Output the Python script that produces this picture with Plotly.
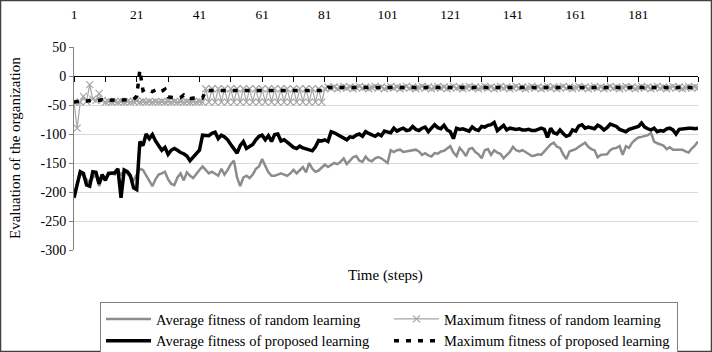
import plotly.graph_objects as go

steps = list(range(1, 201))

avg_random = [
    -205, -185, -168, -172, -178, -185, -175, -170, -190, -172,
    -178, -170, -168, -170, -165, -170, -163, -168, -175, -180,
    -170, -160, -162, -172, -180, -190, -178, -170, -168, -165,
    -178, -186, -188, -175, -168, -180, -166, -172, -176, -168,
    -162, -156, -162, -168, -165, -168, -172, -160, -170, -162,
    -152, -146, -175, -190, -175, -172, -176, -170, -160, -156,
    -143, -155, -166, -172, -172, -170, -168, -170, -172, -168,
    -162, -168, -162, -157, -166, -150, -160, -165, -163, -158,
    -153, -157, -154, -150, -152, -148, -142, -152, -146, -140,
    -138, -146, -148, -139, -145, -147, -142, -140, -142, -146,
    -150, -128, -131, -128, -127, -131, -130, -130, -128, -127,
    -130, -136, -133, -137, -139, -133, -134, -130, -129, -125,
    -121, -132, -138, -124, -130, -138, -126, -124, -131, -135,
    -142, -128, -126, -136, -128, -132, -134, -142, -136, -131,
    -122, -128, -130, -128, -131, -134, -138, -137, -135, -136,
    -130, -124, -118, -115, -122, -124, -135, -143, -130, -128,
    -126, -122, -118, -115, -122, -126, -128, -140, -136, -136,
    -135, -128, -125, -124, -121, -136, -121, -124, -115, -110,
    -106, -105, -103, -102, -98, -113, -116, -118, -120, -126,
    -123, -127, -127, -127, -127, -130, -132, -125, -120, -113,
]

max_random = [
    -45, -90, -45, -35, -44, -15, -40, -42, -30, -42,
    -45, -44, -45, -44, -45, -44, -45, -44, -45, -44,
    -43, -45, -44, -45, -44, -45, -44, -45, -44, -45,
    -44, -45, -44, -45, -44, -45, -44, -45, -44, -45,
    -44, -45, -22, -45, -22, -45, -22, -45, -22, -45,
    -22, -45, -22, -45, -22, -45, -22, -45, -22, -45,
    -22, -45, -22, -45, -22, -45, -22, -45, -22, -45,
    -22, -45, -22, -45, -22, -45, -22, -45, -22, -45,
    -22, -19, -21, -19, -22, -20, -18, -21, -19, -22,
    -20, -18, -21, -19, -22, -20, -18, -21, -19, -22,
    -20, -18, -21, -19, -22, -20, -18, -21, -19, -22,
    -20, -18, -21, -19, -22, -20, -18, -21, -19, -22,
    -20, -18, -21, -19, -22, -20, -18, -21, -19, -22,
    -20, -18, -21, -19, -22, -20, -18, -21, -19, -22,
    -20, -18, -21, -19, -22, -20, -18, -21, -19, -22,
    -20, -18, -21, -19, -22, -20, -18, -21, -19, -22,
    -20, -18, -21, -19, -22, -20, -18, -21, -19, -22,
    -20, -18, -21, -19, -22, -20, -18, -21, -19, -22,
    -20, -18, -21, -19, -22, -20, -18, -21, -19, -22,
    -20, -18, -21, -19, -22, -20, -18, -21, -19, -20,
]

avg_proposed = [
    -210, -185, -165, -168, -188, -190, -165, -166, -186, -170,
    -180, -168, -168, -167, -160, -210, -162, -165, -172, -193,
    -196, -113, -120, -100, -108, -101, -112, -120, -128, -123,
    -135, -128, -125, -128, -132, -134, -138, -146, -140, -135,
    -128, -102, -102, -103, -99, -97, -108, -102, -105, -110,
    -118, -125, -133, -120, -113, -125, -122, -118, -110, -104,
    -102, -110, -103, -113, -101, -100, -112, -110, -114, -119,
    -123, -125, -121, -124, -126, -127, -129, -122, -111, -112,
    -110, -113, -96, -98, -101, -104, -106, -110, -105, -106,
    -102, -100, -104, -96, -99, -101, -104, -100, -103, -95,
    -97, -98, -90, -95, -92, -90, -94, -93, -87, -92,
    -94, -90, -88, -96, -90, -84, -89, -91, -85, -93,
    -96, -108, -90, -92, -91, -93, -95, -88, -92, -94,
    -87, -88, -85, -84, -80, -94, -90, -85, -93, -90,
    -91, -92, -91, -93, -93, -92, -94, -94, -92, -90,
    -92, -106, -90, -98, -100, -93, -99, -104, -102, -93,
    -95, -86, -84, -90, -88, -90, -91, -85, -88, -93,
    -89, -83, -85, -87, -92, -94, -96, -92, -90, -88,
    -87, -81, -88, -91, -93, -90, -96, -94, -95, -91,
    -90, -93, -100, -92, -91, -90, -90, -90, -91, -90,
]

max_proposed = [
    -45, -44, -44, -43, -43, -42, -42, -43, -42, -41,
    -42, -42, -41, -42, -41, -42, -41, -41, -40, -40,
    -35, 10, -25, -22, -25, -27, -24, -28, -26, -23,
    -36, -37, -38, -38, -37, -33, -38, -39, -38, -39,
    -39, -38, -25, -25, -25, -25, -25, -25, -25, -25,
    -25, -25, -25, -25, -25, -25, -25, -25, -25, -25,
    -25, -25, -25, -25, -25, -25, -25, -25, -25, -25,
    -25, -25, -25, -25, -25, -25, -25, -25, -25, -25,
    -25, -20, -20, -20, -20, -20, -20, -20, -20, -20,
    -20, -20, -20, -20, -20, -20, -20, -20, -20, -20,
    -20, -20, -20, -20, -20, -20, -20, -20, -20, -20,
    -20, -20, -20, -20, -20, -20, -20, -20, -20, -20,
    -20, -20, -20, -20, -20, -20, -20, -20, -20, -20,
    -20, -20, -20, -20, -20, -20, -20, -20, -20, -20,
    -20, -20, -20, -20, -20, -20, -20, -20, -20, -20,
    -20, -20, -20, -20, -20, -20, -20, -20, -20, -20,
    -20, -20, -20, -20, -20, -20, -20, -20, -20, -20,
    -20, -20, -20, -20, -20, -20, -20, -20, -20, -20,
    -20, -20, -20, -20, -20, -20, -20, -20, -20, -20,
    -20, -20, -20, -20, -20, -20, -20, -20, -20, -20,
]

label_ticks = [1, 21, 41, 61, 81, 101, 121, 141, 161, 181]
minor_ticks = [1, 11, 21, 31, 41, 51, 61, 71, 81, 91, 101, 111, 121, 131,
               141, 151, 161, 171, 181, 191, 200]
y_ticks = [-300, -250, -200, -150, -100, -50, 0, 50]
y_tick_text = ["-300", "-250", "-200", "-150", "-100", "-50", "0", "50"]

FONT = "Liberation Serif"
W, H = 712, 352
ML, MR, MT, MB = 74, 14, 47, 102
PW, PH = W - ML - MR, H - MT - MB

fig = go.Figure()
fig.add_trace(go.Scatter(
    x=steps, y=avg_random, mode="lines", name="Average fitness of random learning",
    line=dict(color="#8c8c8c", width=2.5)))
fig.add_trace(go.Scatter(
    x=steps, y=max_random, mode="lines+markers", name="Maximum fitness of random learning",
    line=dict(color="#a6a6a6", width=1.2),
    marker=dict(symbol="x-thin-open", size=7, color="#a6a6a6",
                line=dict(color="#a6a6a6", width=1.2))))
fig.add_trace(go.Scatter(
    x=steps, y=avg_proposed, mode="lines", name="Average fitness of proposed learning",
    line=dict(color="#000000", width=3.5)))
fig.add_trace(go.Scatter(
    x=steps, y=max_proposed, mode="lines", name="Maximum fitness of proposed learning",
    line=dict(color="#000000", width=3.5, dash="5px,7px")))
# invisible helper trace for the top label axis
fig.add_trace(go.Scatter(x=[steps[0]], y=[None], xaxis="x2", showlegend=False,
                         hoverinfo="skip", mode="lines"))

ymin, ymax = -300, 50
zero_pos = (0 - ymin) / (ymax - ymin)

fig.update_layout(
    width=W, height=H,
    margin=dict(l=ML, r=MR, t=MT, b=MB, pad=0, autoexpand=False),
    paper_bgcolor="white", plot_bgcolor="white",
    font=dict(family=FONT, size=13, color="black"),
    showlegend=True,
    xaxis=dict(range=[1, 200], anchor="free", position=zero_pos,
               tickmode="array", tickvals=minor_ticks, showticklabels=False,
               ticks="outside", ticklen=5, tickcolor="black", tickwidth=1,
               showline=True, linecolor="black", linewidth=1,
               showgrid=False, zeroline=False, automargin=False),
    xaxis2=dict(range=[1, 200], overlaying="x", side="top", anchor="y",
                tickmode="array", tickvals=label_ticks,
                ticktext=[str(v) for v in label_ticks],
                ticks="outside", ticklen=22, tickcolor="rgba(0,0,0,0)",
                showline=False, showgrid=False, zeroline=False, automargin=False,
                tickfont=dict(family=FONT, size=13.5)),
    yaxis=dict(range=[ymin, ymax], tickmode="array", tickvals=y_ticks,
               ticktext=y_tick_text,
               ticks="outside", ticklen=4, tickcolor="#808080",
               showline=True, linecolor="#808080", linewidth=1,
               showgrid=True, gridcolor="#d9d9d9", gridwidth=1,
               zeroline=False, automargin=False,
               tickfont=dict(family=FONT, size=14)),
    legend=dict(orientation="h", x=(100 - ML) / PW, xanchor="left",
                y=(MT + PH - 302) / PH, yanchor="top",
                entrywidth=228, entrywidthmode="pixels", itemwidth=45,
                bordercolor="#808080", borderwidth=1, bgcolor="white",
                font=dict(family=FONT, size=14.5), tracegroupgap=0),
    annotations=[
        dict(text="Time (steps)", xref="paper", yref="paper",
             x=(385 - ML) / PW, y=(MT + PH - 275) / PH,
             showarrow=False, xanchor="center", yanchor="middle",
             font=dict(family=FONT, size=15)),
        dict(text="Evaluation of the organization", xref="paper", yref="paper",
             x=(15 - ML) / PW, y=(MT + PH - 148) / PH, textangle=-90,
             showarrow=False, xanchor="center", yanchor="middle",
             font=dict(family=FONT, size=15)),
    ],
    shapes=[dict(type="rect", xref="paper", yref="paper",
                 x0=(0.5 - ML) / PW, x1=(W - 0.5 - ML) / PW,
                 y0=-(MB - 0.5) / PH, y1=(PH + MT - 0.5) / PH,
                 line=dict(color="#404040", width=1.5), layer="above")],
)

fig.write_html("out.html")
